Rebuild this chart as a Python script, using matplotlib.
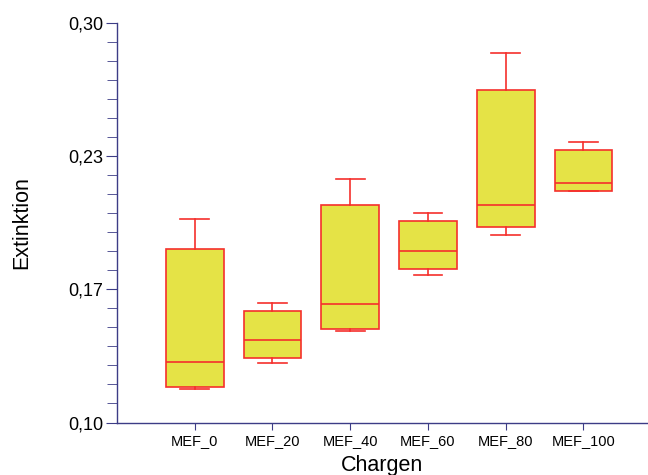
import matplotlib as mpl
mpl.use('Agg')
import matplotlib.pyplot as plt
from matplotlib.ticker import FixedLocator, NullFormatter
import numpy as np

plt.rcParams['font.family'] = ['Liberation Sans', 'DejaVu Sans']

chargen = ['MEF_0', 'MEF_20', 'MEF_40', 'MEF_60', 'MEF_80', 'MEF_100']
whisk_lo = [0.1169, 0.1299, 0.1459, 0.1740, 0.1940, 0.2160]
q1 = [0.1180, 0.1322, 0.1469, 0.1768, 0.1978, 0.2160]
median = [0.1305, 0.1411, 0.1594, 0.1860, 0.2090, 0.2200]
q3 = [0.1866, 0.1559, 0.2090, 0.2007, 0.2663, 0.2362]
whisk_hi = [0.2020, 0.1600, 0.2220, 0.2050, 0.2850, 0.2401]

y_ticks = [0.10, 0.3 - 0.2 * 2 / 3, 0.3 - 0.2 / 3, 0.30]
y_labels = ['0,10', '0,17', '0,23', '0,30']

box_col = '#e5e346'
edge_col = '#f5302c'
axis_col = '#3c3c86'

stats = []
for i, name in enumerate(chargen):
    stats.append(dict(label=name, whislo=whisk_lo[i], q1=q1[i], med=median[i],
                      q3=q3[i], whishi=whisk_hi[i], fliers=[]))

fig = plt.figure(figsize=(6.48, 4.75), dpi=100)
ax = fig.add_axes([117 / 648, 52.5 / 475, 1 - 117 / 648, (422.5 - 22.7) / 475])

line = dict(color=edge_col, linewidth=1.2)
ax.bxp(stats, positions=np.arange(1, len(chargen) + 1), widths=0.745,
       patch_artist=True, showfliers=False,
       boxprops=dict(facecolor=box_col, edgecolor=edge_col, linewidth=1.2),
       medianprops=line, whiskerprops=line, capprops=line, capwidths=0.37)

ax.set_xlim(0, 6.83)
ax.set_ylim(0.10, 0.30)

for s in ['top', 'right']:
    ax.spines[s].set_visible(False)
for s in ['left', 'bottom']:
    ax.spines[s].set_color(axis_col)
    ax.spines[s].set_linewidth(1.0)

ax.yaxis.set_major_locator(FixedLocator(y_ticks))
ax.set_yticklabels(y_labels)
ax.yaxis.set_minor_locator(FixedLocator(np.linspace(0.10, 0.30, 22)))
ax.yaxis.set_minor_formatter(NullFormatter())
ax.tick_params(axis='y', which='major', length=8, color=axis_col, labelsize=13, pad=2)
ax.tick_params(axis='y', which='minor', length=7, color=axis_col)
ax.tick_params(axis='x', which='major', length=5, color=axis_col, labelsize=10.5, pad=3)

ax.set_xlabel('Chargen', fontsize=15.5, labelpad=5)
ax.set_ylabel('Extinktion', fontsize=15.5, labelpad=26)

fig.savefig('out.png', dpi=100)
